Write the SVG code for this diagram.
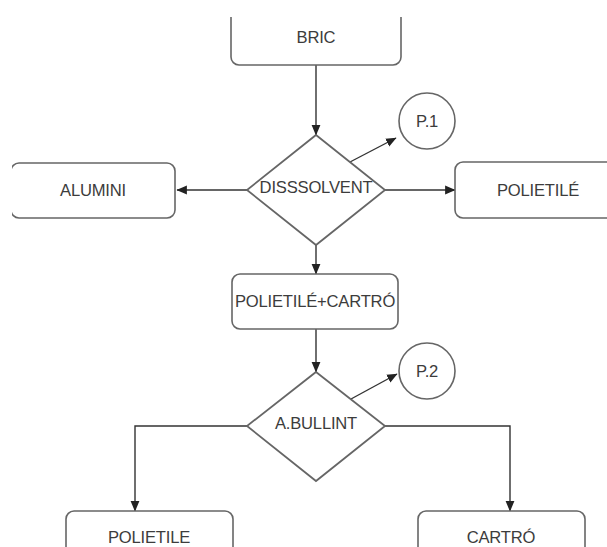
<svg xmlns="http://www.w3.org/2000/svg" width="607" height="547" viewBox="0 0 607 547">
<defs>
<marker id="arr" markerUnits="userSpaceOnUse" markerWidth="11" markerHeight="11" viewBox="0 0 10 10" refX="9" refY="5" orient="auto">
<path d="M0,1 L9.5,5 L0,9 Z" fill="#222"/>
</marker>
<clipPath id="crop"><rect x="12" y="17" width="595" height="530"/></clipPath>
</defs>
<style>
.box{fill:#fff;stroke:#666;stroke-width:1.6}
.dia{fill:#fff;stroke:#666;stroke-width:1.8}
.con{fill:none;stroke:#333;stroke-width:1.4}
.t{font-family:"Liberation Sans",Arial,sans-serif;font-size:16.6px;fill:#3c3c3c;text-anchor:middle;letter-spacing:-0.2px}
</style>
<rect width="607" height="547" fill="#fff"/>
<g clip-path="url(#crop)">
<g id="connectors">
<path class="con" d="M316,65 L316,135" marker-end="url(#arr)"/>
<path class="con" d="M247,190 L177,190" marker-end="url(#arr)"/>
<path class="con" d="M385,190 L455,190" marker-end="url(#arr)"/>
<path class="con" d="M350,162 L396,138" marker-end="url(#arr)"/>
<path class="con" d="M316,245 L316,274" marker-end="url(#arr)"/>
<path class="con" d="M316,329 L316,372" marker-end="url(#arr)"/>
<path class="con" d="M351,399 L397,374" marker-end="url(#arr)"/>
<path class="con" d="M247,426 L135,426 L135,511" marker-end="url(#arr)"/>
<path class="con" d="M385,426 L510,426 L510,511" marker-end="url(#arr)"/>
</g>
<g id="bric"><rect class="box" x="231" y="9" width="170" height="56" rx="8"/><text class="t" x="316" y="43">BRIC</text></g>
<g id="dissolvent"><polygon class="dia" points="316,135 385,190 316,245 247,190"/><text class="t" x="316" y="193">DISSSOLVENT</text></g>
<g id="p1"><circle class="box" cx="427" cy="121" r="28"/><text class="t" x="427" y="127">P.1</text></g>
<g id="alumini"><rect class="box" x="11" y="163" width="164" height="55" rx="8"/><text class="t" x="93" y="196">ALUMINI</text></g>
<g id="polietile1"><rect class="box" x="455" y="162" width="170" height="56" rx="8"/><text class="t" x="538" y="196">POLIETILÉ</text></g>
<g id="poliecartro"><rect class="box" x="232" y="274" width="166" height="55" rx="8"/><text class="t" x="315" y="307">POLIETILÉ+CARTRÓ</text></g>
<g id="abullint"><polygon class="dia" points="316,372 385,426 316,481 247,426"/><text class="t" x="316" y="429">A.BULLINT</text></g>
<g id="p2"><circle class="box" cx="427" cy="371" r="28"/><text class="t" x="427" y="377">P.2</text></g>
<g id="polietile2"><rect class="box" x="66" y="511" width="167" height="56" rx="8"/><text class="t" x="149" y="543">POLIETILE</text></g>
<g id="cartro"><rect class="box" x="418" y="511" width="167" height="56" rx="8"/><text class="t" x="501" y="543">CARTRÓ</text></g>
</g>
</svg>
